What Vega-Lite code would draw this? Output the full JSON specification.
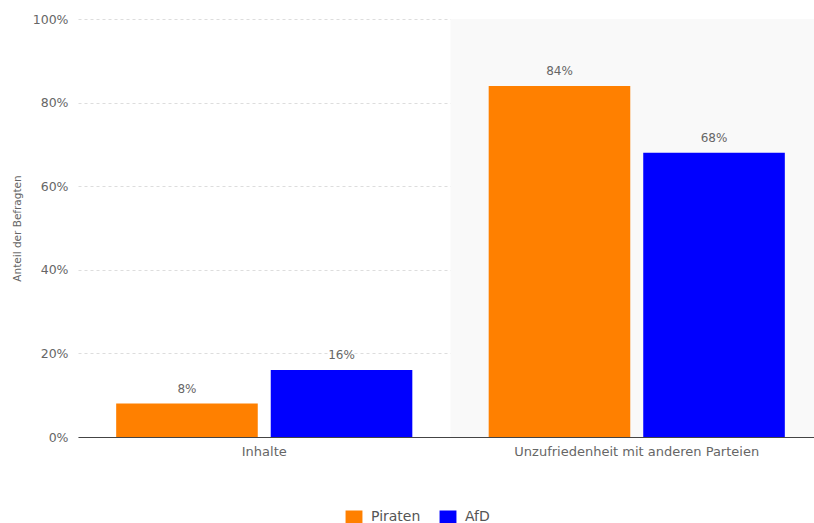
{
  "$schema": "https://vega.github.io/schema/vega-lite/v6.json",
  "width": 745,
  "height": 418,
  "autosize": {"type": "none"},
  "padding": {"left": 78, "top": 19, "right": 0, "bottom": 86},
  "background": "white",
  "config": {
    "font": "DejaVu Sans",
    "view": {"stroke": null},
    "axis": {"labelColor": "#666666", "titleColor": "#666666", "labelFontSize": 12.5}
  },
  "datasets": {
    "bg": [{"kategorie": "Unzufriedenheit mit anderen Parteien", "lo": 0, "hi": 1}],
    "main": [
      {"kategorie": "Inhalte", "partei": "Piraten", "wert": 0.08},
      {"kategorie": "Inhalte", "partei": "AfD", "wert": 0.16},
      {"kategorie": "Unzufriedenheit mit anderen Parteien", "partei": "Piraten", "wert": 0.84},
      {"kategorie": "Unzufriedenheit mit anderen Parteien", "partei": "AfD", "wert": 0.68}
    ]
  },
  "layer": [
    {
      "data": {"name": "bg"},
      "mark": {"type": "rect", "color": "#f9f9f9"},
      "encoding": {
        "x": {"field": "kategorie", "type": "nominal", "sort": ["Inhalte", "Unzufriedenheit mit anderen Parteien"]},
        "y": {"field": "lo", "type": "quantitative"},
        "y2": {"field": "hi"}
      }
    },
    {
      "data": {"name": "main"},
      "mark": {"type": "bar"},
      "encoding": {
        "x": {
          "field": "kategorie", "type": "nominal",
          "sort": ["Inhalte", "Unzufriedenheit mit anderen Parteien"],
          "scale": {"paddingInner": 0, "paddingOuter": 0},
          "axis": {"title": null, "labelAngle": 0, "labelAlign": "center", "ticks": false, "domainColor": "#444444", "labelPadding": 14, "grid": false, "labelLimit": 0, "labelFontSize": 13}
        },
        "xOffset": {
          "field": "partei", "type": "nominal", "sort": ["Piraten", "AfD"],
          "scale": {"paddingInner": 0.084, "paddingOuter": 0.247}
        },
        "y": {
          "field": "wert", "type": "quantitative",
          "scale": {"domain": [0, 1]},
          "axis": {
            "title": "Anteil der Befragten", "titleFontSize": 10.5, "titleFontWeight": "normal", "titlePadding": 10,
            "values": [0, 0.2, 0.4, 0.6, 0.8, 1], "format": ".0%",
            "domain": false, "ticks": false, "labelPadding": 10,
            "gridColor": "#dddddd", "gridDash": [3, 3]
          }
        },
        "color": {
          "field": "partei", "type": "nominal", "sort": ["Piraten", "AfD"],
          "scale": {"domain": ["Piraten", "AfD"], "range": ["#ff8000", "#0000ff"]},
          "legend": {
            "title": null, "orient": "none", "direction": "horizontal",
            "legendX": 269, "legendY": 491,
            "symbolType": "M-1.3,-1H1.3V1H-1.3Z", "symbolSize": 169, "symbolStrokeWidth": 0,
            "labelFontSize": 14, "labelColor": "#555555", "columnPadding": 18, "labelOffset": 10
          }
        }
      }
    },
    {
      "data": {"name": "main"},
      "mark": {"type": "text", "dy": -8, "baseline": "bottom", "fontSize": 12, "color": "#666666"},
      "encoding": {
        "x": {"field": "kategorie", "type": "nominal", "sort": ["Inhalte", "Unzufriedenheit mit anderen Parteien"]},
        "xOffset": {"field": "partei", "type": "nominal", "sort": ["Piraten", "AfD"]},
        "y": {"field": "wert", "type": "quantitative"},
        "text": {"field": "wert", "type": "quantitative", "format": ".0%"}
      }
    }
  ]
}
